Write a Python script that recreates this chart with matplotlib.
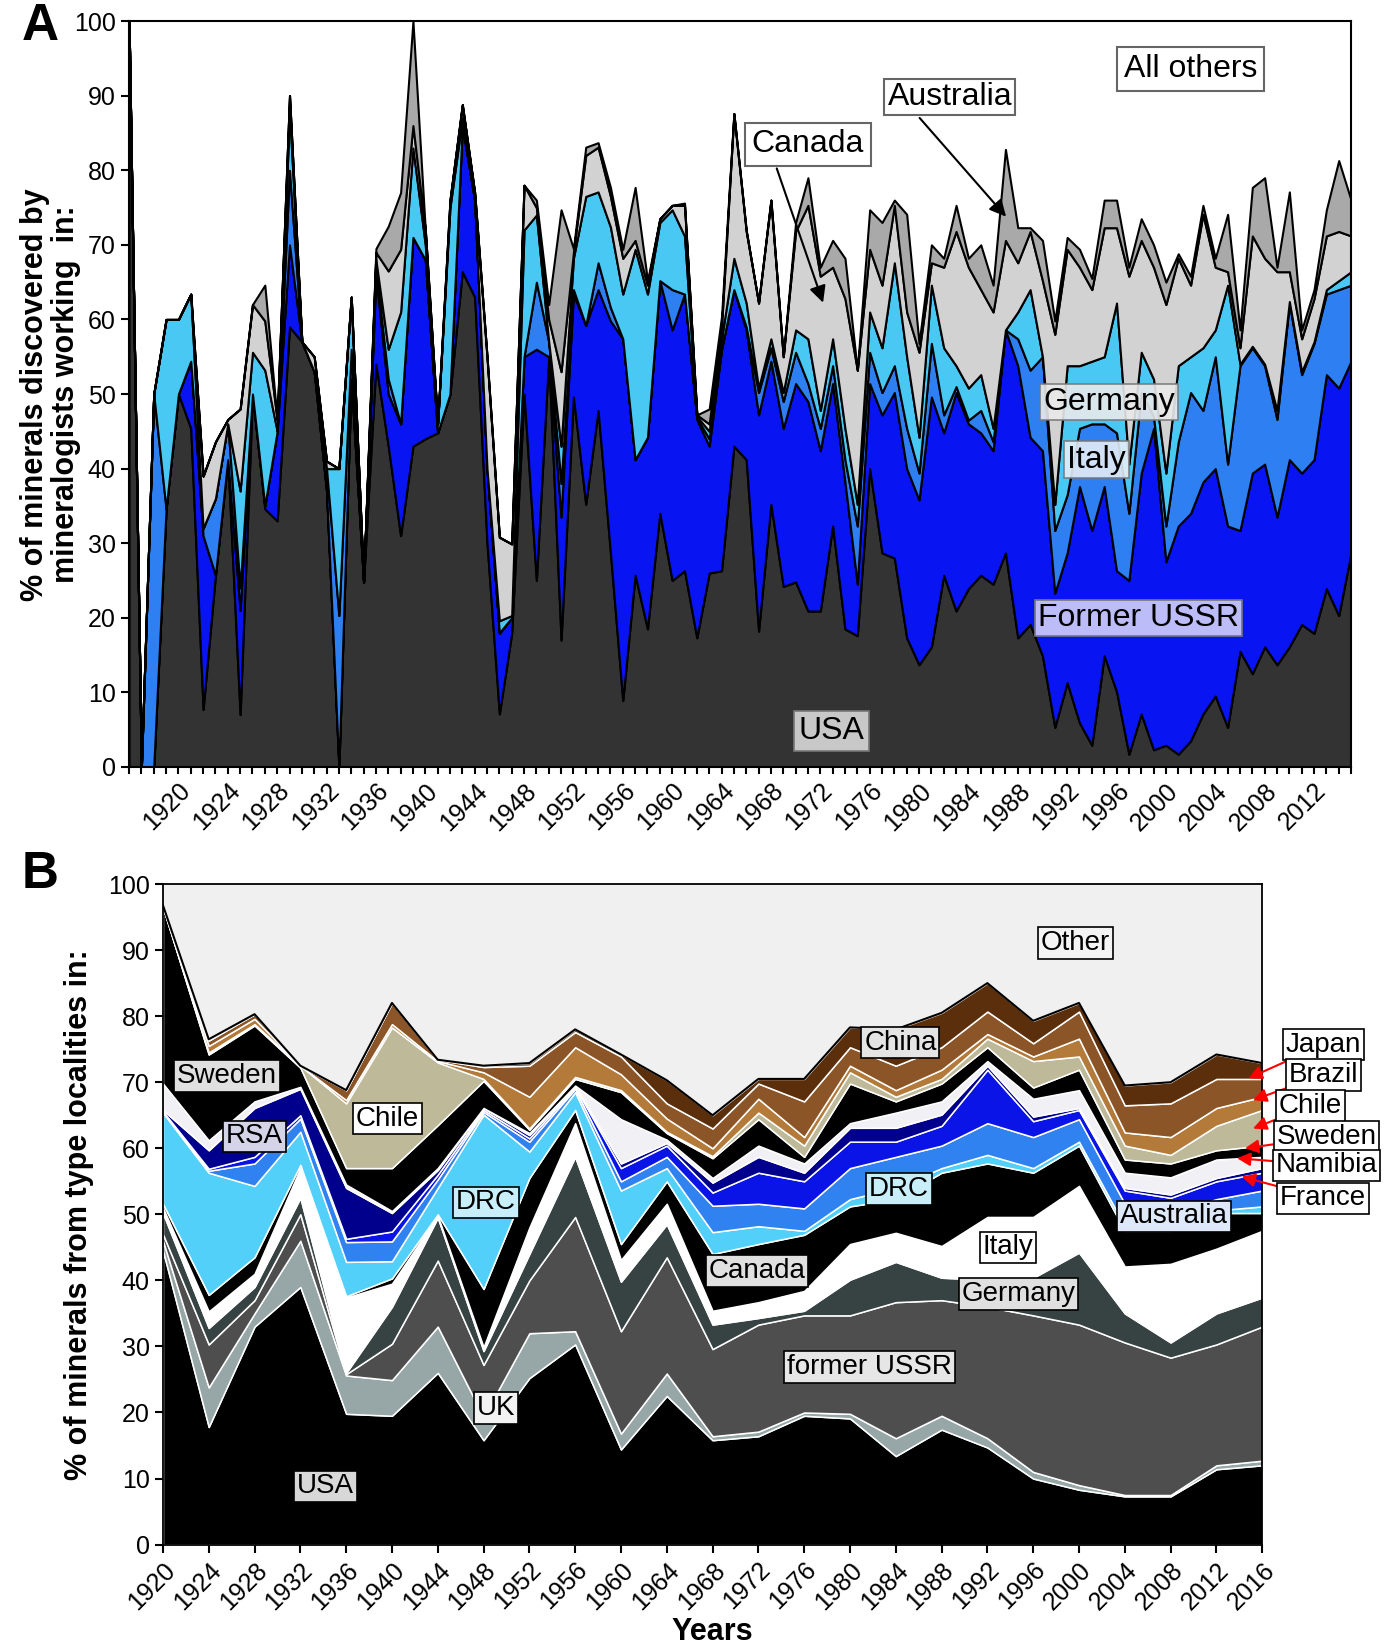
import numpy as np
import matplotlib
matplotlib.use("Agg")
import matplotlib.pyplot as plt
from matplotlib.ticker import MultipleLocator

plt.rcParams['font.family'] = ['Liberation Sans', 'DejaVu Sans']

# ---------------- panel A : share of new minerals by country of the describing mineralogists
years_a = np.arange(1916, 2016)

usa_a = [100, 0, 0, 34.6, 50, 45.4, 7.7, 25.7, 41.2, 7,
         50, 34.6, 33, 59, 57, 53, 37, 0, 52, 24.8,
         54, 43, 31, 43, 44, 44.8, 50, 66.4, 63, 30,
         7.1, 17.9, 50, 25, 55, 17, 49.6, 35.2, 47.8, 28.7,
         8.9, 25.7, 18.5, 34, 25, 26.3, 17.3, 26, 26.3, 43,
         41.2, 18.2, 35.2, 24.2, 24.8, 20.9, 20.9, 32.3, 18.5, 17.6,
         40, 28.7, 28, 17.3, 13.7, 16.1, 25.7, 20.9, 23.9, 25.7,
         24.5, 28.7, 17.3, 19.1, 14.9, 5.3, 11.3, 5.9, 2.9, 14.9,
         10.1, 1.7, 7.1, 2.3, 2.9, 1.7, 3.5, 7.1, 9.5, 5.3,
         15.5, 12.5, 16.1, 13.7, 16.1, 19.1, 17.9, 23.9, 20.3, 28.7]

ussr_a = [0, 0, 0, 0, 0, 9, 23.3, 0, 0, 14,
          0, 0.4, 12, 11, 0, 0, 0, 0, 0, 0,
          12, 7, 15, 28, 24, 0, 0, 19.6, 13, 10,
          10.8, 2.1, 5, 31, 0, 16.5, 13.8, 24, 16.2, 31.1,
          48.5, 15.5, 25.7, 31.2, 33.6, 37.1, 29.3, 17, 29.7, 21,
          17.4, 29, 19.2, 21.2, 26.6, 28.1, 21.5, 19.1, 19.7, 6.9,
          11.4, 18.5, 22.2, 22.7, 22.1, 33.5, 19.1, 29.3, 22.1, 19.1,
          17.9, 29.9, 36.5, 25.1, 27.5, 18, 17.4, 31.7, 28.8, 22.7,
          16.2, 23.3, 32.3, 43.1, 24.6, 30.6, 30.5, 31.1, 30.5, 27,
          16.2, 26.9, 24.5, 19.8, 25.1, 20.3, 23.3, 28.7, 30.5, 25.7]

italy_a = [0, 0, 50, 0, 0, 0, 1, 10.3, 4.8, 3,
           0, 0, 0, 10, 0, 0, 3, 20.3, 4, 0,
           1, 2, 0, 0, 0, 0, 0, 0, 0, 0,
           0.1, 0, 0, 9, 2, 4.5, 0.6, 0, 3.6, 1.8,
           0, 0, 0, 0, 5.4, 0, 0.2, 1, 0, 0,
           0.4, 3, 1.8, 3.6, 4.2, 2.4, 3, 2.4, 3, 7.8,
           4.2, 3, 3.6, 5.4, 3.6, 7.2, 2.4, 0.8, 0.5, 3,
           1.2, 0, 3.6, 9, 12.6, 8.4, 7.8, 7.8, 14.3, 8.4,
           18.5, 9, 10.8, 1.6, 4.8, 11.3, 16.2, 9.6, 15, 8.3,
           22.1, 16.8, 13.2, 13.1, 21, 13.2, 15.6, 10.8, 13.2, 10.2]

germany_a = [0, 0, 0, 25.4, 10, 9, 0, 0, 0, 13,
             5.6, 18.2, 0, 8, 0, 0, 0, 19.7, 7, 0,
             1, 4, 15, 12, 2, 1.2, 25, 1, 0, 0,
             1.6, 0.3, 17, 9, 0, 5, 4.2, 17.3, 9.5, 10.8,
             6, 28.2, 19.2, 7.8, 10.7, 7.8, 0.2, 1, 1.4, 4.2,
             3.2, 0.6, 1.2, 1.2, 3, 6, 2.4, 3.6, 4.2, 2.9,
             5.4, 6, 13.8, 9.6, 4.8, 7.8, 9, 2.8, 4.3, 4.8,
             1.8, 0, 3.6, 10.8, 0, 3.5, 17.3, 8.4, 8.4, 9,
             17.4, 6.6, 5.4, 5, 7.1, 10.2, 4.8, 8.4, 3.6, 24,
             0.2, 0.2, 0.2, 1.2, 0.2, 0.4, 0.2, 0.6, 1.2, 1.8]

canada_a = [0, 0, 0, 0, 0, 0, 7, 7.6, 0.6, 11,
            6.4, 6.6, 1.5, 2, 0, 2, 1, 0, 0, 0,
            1, 10.5, 8.4, 3, 2, 0, 1, 1.8, 1, 15,
            11.2, 9.6, 6, 1, 3, 10, 0.8, 5.5, 6, 4.1,
            4.8, 1.2, 1.2, 0.5, 0.6, 4.1, 0.2, 1, 1.6, 19.4,
            9.6, 11.4, 18.6, 4.8, 13.2, 17.9, 18, 9.6, 17.4, 18,
            8.4, 8.4, 7.7, 6, 11.4, 3, 10.8, 18, 16.2, 11.4,
            15.6, 12, 6.6, 7.8, 10.2, 22.8, 15.6, 13.2, 9.6, 17.3,
            10.1, 25.2, 15, 15, 22.6, 14.4, 9.6, 17.9, 8.4, 1.8,
            2.2, 14.8, 14.2, 18.6, 4, 4.4, 5.8, 7.2, 6.6, 4.8]

australia_a = [0, 0, 0, 0, 0, 0, 0, 0, 0, 0,
               0, 4.8, 0, 0, 0, 0, 0, 0, 0, 0,
               0.5, 6, 7.6, 14, 0, 0, 0, 0, 0, 0,
               0, 0, 0, 1, 2, 21.7, 0.5, 1.1, 0.6, 1.2,
               1.2, 7.1, 0.6, 0, 0, 0.3, 0, 2, 1.4, 0,
               0.2, 0, 0, 0, 1.2, 3.7, 1.2, 3.6, 5.4, 0,
               5.3, 8.4, 0.7, 13.1, 1.2, 2.4, 1.2, 3.5, 1.2, 6,
               3.6, 12.2, 4.7, 0.5, 5.4, 1.8, 1.6, 2.4, 1.5, 3.7,
               3.7, 1.2, 2.9, 3, 3, 0.6, 1.2, 1.2, 1.2, 7.7,
               2.4, 6.5, 10.8, 0.6, 10.7, 1.2, 1.2, 3.5, 9.5, 4.8]

colors_a = ['#333333', '#0914f2', '#2d7ff2', '#4ac8f4', '#d2d2d2', '#a9a9a9']

# ---------------- panel B : share of minerals by type-locality country
years_b = np.arange(1920, 2017, 4)

usa_b = [44.5, 17.8, 33, 39, 19.8, 19.5, 26, 15.8, 25.2, 30.3, 14.4, 22.5, 15.8,
         16.4, 19.5, 19.1, 13.4, 17.4, 14.7, 10, 8.3, 7.3, 7.3, 11.4, 12]
uk_b = [1.5, 6, 2, 7, 5.8, 5.4, 7, 3.5, 6.8, 2, 2.4, 3.4, 0.6,
        0.7, 0.5, 0.7, 2.7, 2.1, 1.4, 1, 0.7, 0.2, 0.2, 0.6, 0.7]
ussr_b = [1, 6.5, 2, 4, 0.2, 5.5, 10, 7.9, 8, 17.3, 15.5, 17.6, 13.2,
          16.2, 14.7, 14.9, 20.6, 17.5, 19.9, 23.7, 24.3, 23.1, 20.8, 18.3, 20.3]
germany_b = [3.2, 2.5, 2, 2.5, 0.2, 5.6, 6.5, 2.1, 4, 9.1, 7.5, 5, 3.7,
             1, 0.7, 5.4, 6.1, 3.4, 4.1, 5.7, 10.9, 4.4, 2.3, 4.7, 4.4]
italy_b = [0.8, 2.5, 2, 4.5, 11.4, 3.5, 0.3, 0.6, 4, 5.1, 3.3, 3.1, 2.1,
           2.4, 3, 5.4, 4.4, 4.8, 9.5, 9.2, 10.1, 7.1, 11.9, 9.8, 10.1]
canada_b = [0.6, 2.5, 2.5, 0.5, 0.2, 0.8, 0.2, 8.8, 7.5, 2, 2.4, 3.4, 8.6,
            8.8, 8.5, 5.7, 5.1, 11.1, 8.1, 6.7, 6.1, 5.4, 5, 5.4, 2.7]
drc_b = [13.8, 18.5, 10.8, 5, 5.2, 2.6, 4, 26.4, 4, 2.7, 8.1, 2, 3.3,
         2.7, 0.6, 1.1, 1.7, 0.7, 1.3, 0.7, 0.6, 0.7, 0.5, 0.4, 1]
australia_b = [0.2, 0.3, 3.4, 2, 3, 3, 1.3, 0.4, 1.5, 0.5, 1.4, 1.7, 4,
               3.4, 3.4, 4.7, 4.7, 3.4, 4.8, 4.7, 3.4, 3.4, 2.2, 1.7, 2.4]
france_b = [0, 0.3, 1, 0.5, 0.5, 1.5, 0.7, 0.3, 0.5, 0.3, 2, 1.7, 2,
            4.7, 4.1, 4, 2.3, 3, 8.1, 2.4, 1.4, 2, 2.3, 2.7, 2.7]
rsa_b = [0.2, 2.8, 7.4, 4, 7.7, 2.8, 0.7, 0.3, 0.5, 0.2, 0.7, 0.4, 1.5,
         2.4, 1.3, 2.1, 2.1, 1.7, 0.6, 0.7, 0.3, 0.4, 0.5, 0.5, 0.7]
namibia_b = [4, 1.5, 1, 0.3, 0.5, 0.3, 0.3, 0, 0.3, 0, 6.7, 0.5, 0.7,
             1.7, 1.4, 0.7, 2.3, 2, 0.7, 2.7, 2.7, 2.3, 2.6, 2.8, 1.7]
sweden_b = [26.7, 13, 11.5, 2.9, 2.5, 6.5, 6.5, 4.1, 0.5, 1, 4.1, 1, 3,
            4, 1, 6, 1.7, 2.7, 2.1, 1.7, 3.1, 2, 2.1, 1.4, 1.7]
chile_b = [0, 0.3, 0.2, 0.3, 9.8, 21.3, 9.5, 0.3, 0.2, 0.3, 0.3, 0.2, 0.3,
           1, 1.7, 1.7, 0.7, 0.7, 1.3, 4, 2, 2.1, 1.3, 3.7, 5.4]
brazil_b = [0, 1, 0.8, 0, 0.5, 0.5, 0.2, 1, 4.8, 4.5, 2.4, 2, 1.2,
            2.1, 1.3, 1, 1, 1.4, 0.7, 0.7, 2.7, 2, 2.7, 2.7, 2]
japan_b = [0, 0.8, 0.7, 0, 1.5, 3.2, 0.2, 0.8, 4.7, 2.3, 2.7, 2.3, 3,
           2.3, 5.4, 2.8, 3.7, 3.4, 3.4, 2, 4.1, 4.1, 5.1, 4.4, 2.7]
china_b = [0.3, 0.2, 0, 0, 0, 0, 0, 0.2, 0.4, 0.4, 0.3, 3.5, 2,
           0.7, 3.4, 3, 5.5, 5.2, 4.3, 3.4, 1.3, 3, 3.2, 3.7, 2.4]

layers_b = [usa_b, uk_b, ussr_b, germany_b, italy_b, canada_b, drc_b, australia_b,
            france_b, rsa_b, namibia_b, sweden_b, chile_b, brazil_b, japan_b, china_b]
colors_b = ['#000000', '#97a7a7', '#4e4e4e', '#374242', '#ffffff', '#000000',
            '#52d0fa', '#2f82f0', '#0a14e6', '#00008c', '#f1f1f5', '#000000',
            '#bdb999', '#b37a3a', '#8b5527', '#5b2e0c']

fig = plt.figure(figsize=(13.95, 16.5), dpi=100)

# ---------------- draw panel A
ax1 = fig.add_axes([0.0925, 0.5352, 0.876, 0.452])
ax1.stackplot(years_a, usa_a, ussr_a, italy_a, germany_a, canada_a, australia_a,
              colors=colors_a, edgecolor='black', linewidth=1.5)
ax1.set_xlim(1916, 2015)
ax1.set_ylim(0, 100)
ax1.set_yticks(range(0, 101, 10))
ax1.set_xticks(range(1920, 2013, 4))
ax1.xaxis.set_minor_locator(MultipleLocator(1))
ax1.tick_params(axis='both', which='both', direction='out', width=1.5, labelsize=18)
ax1.tick_params(axis='x', which='both', length=5)
ax1.tick_params(axis='y', length=6)
plt.setp(ax1.get_xticklabels(), rotation=45, ha='right', rotation_mode='anchor')
for s in ax1.spines.values():
    s.set_linewidth(1.5)

lab_a = dict(fontsize=23, ha='center', va='center')
ax1.text(2002, 93.6, 'All others', bbox=dict(boxstyle='square,pad=0.22', fc='white', ec='#666666', lw=1.5), **lab_a)
ax1.text(1982.5, 89.8, 'Australia', bbox=dict(boxstyle='square,pad=0.1', fc='white', ec='#666666', lw=1.5), **lab_a)
ax1.text(1971, 83.5, 'Canada', bbox=dict(boxstyle='square,pad=0.2', fc='white', ec='#666666', lw=1.5), **lab_a)
ax1.text(1995.4, 48.9, 'Germany', bbox=dict(boxstyle='square,pad=0.1', fc='#eaeaea', ec='#777777', lw=1.2, alpha=0.9), **lab_a)
ax1.text(1994.4, 41.2, 'Italy', bbox=dict(boxstyle='square,pad=0.1', fc='#e4eef8', ec='#777777', lw=1.2, alpha=0.9), **lab_a)
ax1.text(1997.8, 20, 'Former USSR', bbox=dict(boxstyle='square,pad=0.1', fc='#bcbcf8', ec='#777777', lw=1.2), **lab_a)
ax1.text(1972.9, 4.8, 'USA', bbox=dict(boxstyle='square,pad=0.15', fc='#c8c8c8', ec='#777777', lw=1.2), **lab_a)
ax1.annotate('', xy=(1972.3, 61.9), xytext=(1968.4, 80.6),
             arrowprops=dict(arrowstyle='-|>', color='black', lw=1.5, mutation_scale=25))
ax1.annotate('', xy=(1987.2, 73.5), xytext=(1979.9, 87.3),
             arrowprops=dict(arrowstyle='-|>', color='black', lw=1.5, mutation_scale=25))

# ---------------- draw panel B
ax2 = fig.add_axes([0.1168, 0.0639, 0.788, 0.4003])
ax2.set_facecolor('#f0f0f0')
ax2.stackplot(years_b, *layers_b, colors=colors_b, edgecolor='white', linewidth=1.1)
ax2.plot(years_b, np.sum(layers_b, axis=0), color='black', lw=1.5)
ax2.set_xlim(1920, 2016)
ax2.set_ylim(0, 100)
ax2.set_yticks(range(0, 101, 10))
ax2.set_xticks(years_b)
ax2.tick_params(axis='both', direction='out', width=1.5, length=6, labelsize=18)
plt.setp(ax2.get_xticklabels(), rotation=45, ha='right', rotation_mode='anchor')
for s in ax2.spines.values():
    s.set_linewidth(1.3)
ax2.set_xlabel('Years', fontsize=22, fontweight='bold', labelpad=2)

lab_b = dict(fontsize=20, ha='center', va='center')
boxes_b = [('Other', 1999.7, 91.1, '#f4f4f4'), ('China', 1984.4, 76, '#e4e4e4'),
           ('Sweden', 1925.6, 70.9, '#e0e0e0'), ('RSA', 1928, 61.8, '#d4d4e8'),
           ('Chile', 1939.6, 64.5, 'white'), ('DRC', 1948.2, 51.8, '#c8eefa'),
           ('DRC', 1984.3, 53.8, '#c8eefa'), ('Canada', 1971.9, 41.4, '#e0e0e0'),
           ('Italy', 1993.8, 45, 'white'), ('Australia', 2008.3, 49.7, '#dde8f8'),
           ('Germany', 1994.7, 37.9, '#e0e0e0'), ('former USSR', 1981.7, 26.9, '#e6e6e6'),
           ('UK', 1949.1, 20.7, '#f2f2f2'), ('USA', 1934.2, 8.8, '#d8d8d8')]
for name, x, y, fc in boxes_b:
    ax2.text(x, y, name, bbox=dict(boxstyle='square,pad=0.1', fc=fc, ec='black', lw=1.2), **lab_b)

side_b = [('Japan', 2021.35, 75.7, 2014.8, 70.6), ('Brazil', 2021.35, 71.1, 2015.2, 67.3),
          ('Chile', 2020.2, 66.4, 2015.2, 63), ('Sweden', 2021.6, 61.7, 2014.5, 60),
          ('Namibia', 2021.6, 57.4, 2013.8, 58.5), ('France', 2021.3, 52.4, 2014.2, 55.7)]
for name, tx, ty, px, py in side_b:
    ax2.annotate(name, xy=(px, py), xytext=(tx, ty), annotation_clip=False,
                 bbox=dict(boxstyle='square,pad=0.1', fc='white', ec='black', lw=1.2),
                 arrowprops=dict(arrowstyle='-|>', color='red', lw=1.5, mutation_scale=20,
                                 shrinkA=0, shrinkB=0),
                 **lab_b)

# ---------------- figure texts
fig.text(0.036, 0.761, '% of minerals discovered by\nmineralogists working  in:',
         rotation=90, ha='center', va='center', fontsize=22, fontweight='bold', linespacing=1.05)
fig.text(0.0566, 0.264, '% of minerals from type localities in:',
         rotation=90, ha='center', va='center', fontsize=22, fontweight='bold')
fig.text(0.0287, 0.984, 'A', ha='center', va='center', fontsize=37, fontweight='bold')
fig.text(0.0287, 0.470, 'B', ha='center', va='center', fontsize=37, fontweight='bold')

fig.savefig('out.png', dpi=100)
